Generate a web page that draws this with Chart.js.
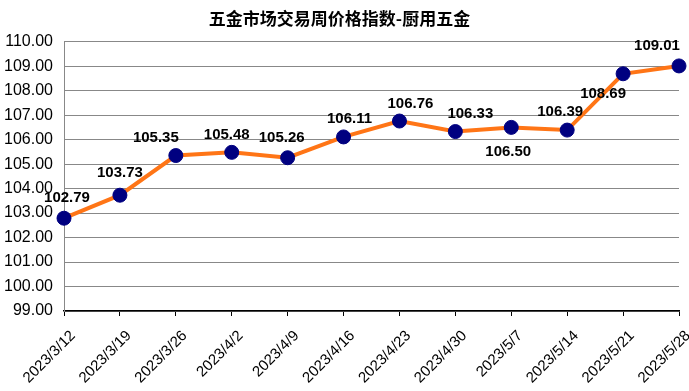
<!DOCTYPE html>
<html>
<head>
<meta charset="utf-8">
<script src="https://cdn.jsdelivr.net/npm/chart.js@4/dist/chart.umd.min.js"></script>
<style>
  html, body { margin: 0; padding: 0; background: #fff; }
  canvas { display: block; }
</style>
</head>
<body>
<canvas id="chart" width="689" height="391"></canvas>
<script>
// Data
const weeks = ['2023/3/12', '2023/3/19', '2023/3/26', '2023/4/2', '2023/4/9', '2023/4/16',
  '2023/4/23', '2023/4/30', '2023/5/7', '2023/5/14', '2023/5/21', '2023/5/28'];
const priceIndex = [102.79, 103.73, 105.35, 105.48, 105.26, 106.11,
  106.76, 106.33, 106.50, 106.39, 108.69, 109.01];
const yTicks = [99, 100, 101, 102, 103, 104, 105, 106, 107, 108, 109, 110];

// label nudges (px) relative to each point
const labelShift = [[3, -20], [0, -22], [-20, -18], [-5, -17], [-6, -20], [6, -18],
  [11, -17], [15, -18], [-3, 24], [-7, -18], [-20, 20], [-22, -20]];

const valueLabels = {
  id: 'valueLabels',
  afterDatasetsDraw(chart) {
    const ctx = chart.ctx;
    const meta = chart.getDatasetMeta(0);
    ctx.save();
    ctx.font = 'bold 15px "Liberation Sans", Arial, sans-serif';
    ctx.fillStyle = '#000';
    ctx.textAlign = 'center';
    ctx.textBaseline = 'middle';
    meta.data.forEach((pt, i) => {
      const [dx, dy] = labelShift[i];
      ctx.fillText(priceIndex[i].toFixed(2), pt.x + dx, pt.y + dy);
    });
    ctx.restore();
  }
};

new Chart(document.getElementById('chart'), {
  type: 'line',
  data: {
    labels: weeks,
    datasets: [{
      data: priceIndex,
      borderColor: '#ff7516',
      borderWidth: 4,
      pointRadius: 7,
      pointBackgroundColor: '#000080',
      pointBorderColor: '#000080',
      pointBorderWidth: 1,
      tension: 0,
      clip: false
    }]
  },
  options: {
    responsive: false,
    animation: false,
    layout: { padding: { left: 0, right: 10, top: 0, bottom: 0 } },
    plugins: {
      legend: { display: false },
      tooltip: { enabled: false },
      title: {
        display: true,
        text: '五金市场交易周价格指数-厨用五金',
        color: '#000',
        font: { family: '"Noto Sans CJK SC", sans-serif', size: 17, weight: 'bold' },
        padding: { top: 8, bottom: 13.3 }
      }
    },
    scales: {
      x: {
        grid: { drawOnChartArea: false, color: '#000', tickLength: 5 },
        border: { color: '#000', width: 1.5 },
        ticks: {
          color: '#000',
          maxRotation: 45,
          minRotation: 45,
          autoSkip: false,
          labelOffset: 9,
          padding: 11,
          font: { family: '"Liberation Sans", Arial, sans-serif', size: 15 }
        },
        afterFit(scale) {
          scale.height = 80;
          scale.paddingLeft = 0;
          scale.paddingRight = 0;
        }
      },
      y: {
        min: 99,
        max: 110,
        afterBuildTicks(scale) { scale.ticks = yTicks.map(v => ({ value: v })); },
        grid: { color: '#888', drawTicks: false },
        border: { color: '#888' },
        ticks: {
          color: '#000',
          padding: 11,
          font: { family: '"Liberation Sans", Arial, sans-serif', size: 16 },
          callback: v => v.toFixed(2)
        },
        afterFit(scale) { scale.width = 64; }
      }
    }
  },
  plugins: [valueLabels]
});
</script>
</body>
</html>
